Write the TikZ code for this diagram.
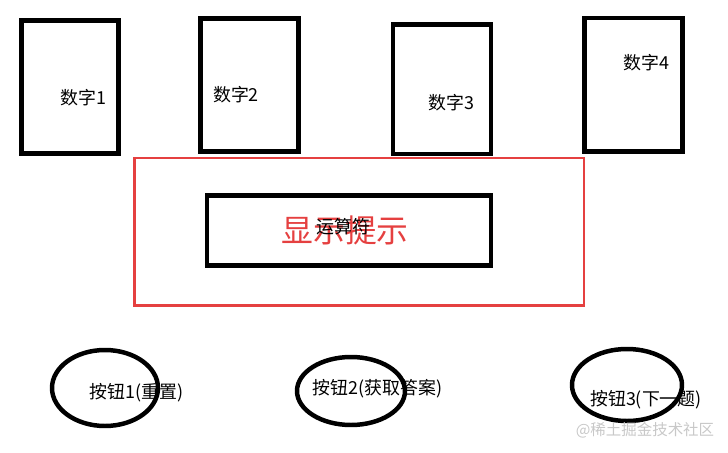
\documentclass[tikz,border=0pt]{standalone}
\usepackage[dvipsnames]{xcolor}
\usepackage{fontspec}
\setmainfont{Noto Sans CJK SC}
\definecolor{hintred}{RGB}{229,64,64}
\definecolor{markgray}{RGB}{200,200,200}
\tikzset{
	card/.style={line width=2.55pt},
	hintframe/.style={line width=1.5pt, hintred},
	label/.style={inner sep=0pt, font=\fontsize{10.2pt}{12pt}\selectfont}
}

\begin{document}
\begin{tikzpicture}[x=0.02cm, y=-0.02cm]
	\useasboundingbox (0,0) rectangle (728,453);
	\draw [card] (21.7,20.7) rectangle (118.7,153.3);
	\node [label] (num1) at (83.5,98) {数字1};
	\draw [card] (200.5,18.5) rectangle (298.5,151.5);
	\node [label] (num2) at (236,95) {数字2};
	\draw [card] (393,24.5) rectangle (491,154);
	\node [label] (num3) at (451.5,103) {数字3};
	\draw [card] (584.5,18) rectangle (682.5,151.5);
	\node [label] (num4) at (646.5,63) {数字4};
	\draw [hintframe] (134.7,158) rectangle (584,305.3);
	\draw [card] (207,195.5) rectangle (491,265.5);
	\node [inner sep=0pt, hintred, font=\fontsize{18.1pt}{20pt}\selectfont] (hint) at (345,230) {显示提示};
	\node [label] (op) at (343.7,226.7) {运算符};
	\draw [card] (105,388) ellipse [x radius=53, y radius=38];
	\node [label] (btn1) at (136.5,393) {按钮1(重置)};
	\draw [card] (351,391) ellipse [x radius=54, y radius=34];
	\node [label] (btn2) at (377.5,389) {按钮2(获取答案)};
	\draw [card] (627,385) ellipse [x radius=55, y radius=36];
	\node [label] (btn3) at (646,400) {按钮3(下一题)};
	\node [inner sep=0pt, markgray, font=\fontsize{8.8pt}{10pt}\selectfont] (mark) at (645,430) {@稀土掘金技术社区};
\end{tikzpicture}
\end{document}
